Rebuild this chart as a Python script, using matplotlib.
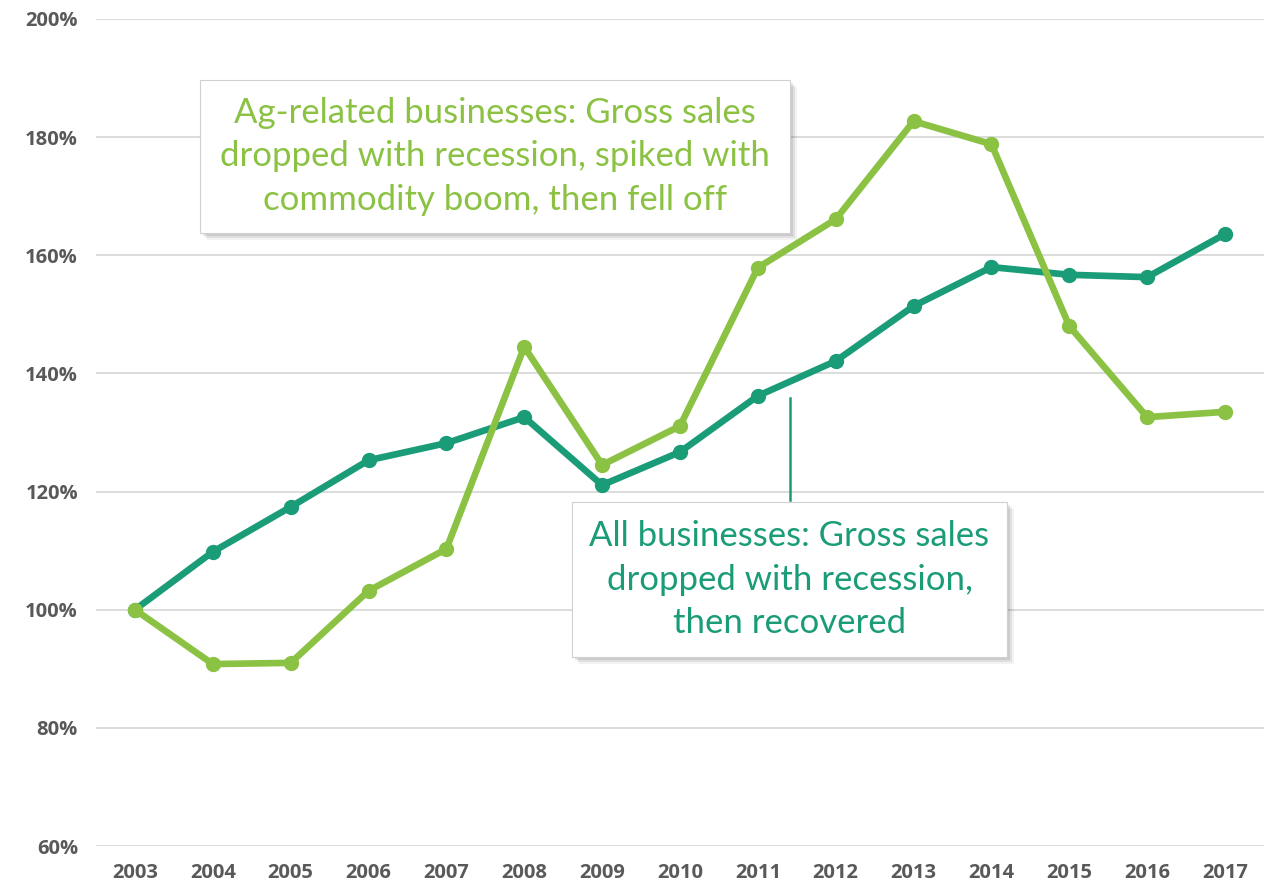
import numpy as np
import matplotlib.pyplot as plt
from matplotlib.patches import Rectangle

# Gross sales relative to 2003 (%)
years = ['2003', '2004', '2005', '2006', '2007', '2008', '2009', '2010',
         '2011', '2012', '2013', '2014', '2015', '2016', '2017']
all_biz = [100, 109.8, 117.4, 125.3, 128.2, 132.6, 121.1, 126.7,
           136.2, 142.1, 151.4, 158.0, 156.7, 156.3, 163.6]
ag_biz = [100, 90.8, 91.0, 103.2, 110.3, 144.5, 124.5, 131.1,
          157.9, 166.1, 182.7, 178.8, 148.0, 132.6, 133.5]
yticks = [60, 80, 100, 120, 140, 160, 180, 200]

dark = '#1B9C78'
light = '#8BC243'
grey = '#595959'

plt.rcParams['font.family'] = ['Lato', 'DejaVu Sans']

fig = plt.figure(figsize=(12.64, 8.86), dpi=100)
ax = fig.add_axes([96 / 1264, 40 / 886, 1168 / 1264, 827 / 886])

x = np.arange(len(years))
ax.plot(x, all_biz, color=dark, lw=4.8, marker='o', ms=10, zorder=3,
        solid_capstyle='round')
ax.plot(x, ag_biz, color=light, lw=4.8, marker='o', ms=10, zorder=4,
        solid_capstyle='round')

ax.set_xlim(-0.5, len(years) - 0.5)
ax.set_ylim(60, 200)
ax.set_xticks(x)
ax.set_xticklabels(years)
ax.set_yticks(yticks)
ax.set_yticklabels([f'{v}%' for v in yticks])
ax.tick_params(length=0, labelcolor=grey)
ax.tick_params(axis='x', pad=12)
ax.tick_params(axis='y', pad=13)
for lab in ax.get_xticklabels() + ax.get_yticklabels():
    lab.set_fontfamily(['Open Sans', 'DejaVu Sans'])
    lab.set_fontweight('bold')
    lab.set_fontsize(14.5)
ax.grid(axis='y', color='#D9D9D9', lw=1.3)
ax.set_axisbelow(True)
for s in ax.spines.values():
    s.set_visible(False)

# connector from the "All businesses" box up to the line
ax.plot([8.41, 8.41], [118.6, 135.8], color=dark, lw=1.8, zorder=2)


def callout(x0, y0, x1, y1, text, color):
    # box given in pixel coords (top-left origin)
    W, H = 1264, 886
    for off, a in [(7, 0.05), (5, 0.07), (3, 0.09)]:
        fig.patches.append(Rectangle(((x0 + off) / W, (H - y1 - off) / H),
                                     (x1 - x0) / W, (y1 - y0) / H,
                                     transform=fig.transFigure,
                                     facecolor='black', alpha=a,
                                     edgecolor='none', zorder=5))
    fig.patches.append(Rectangle((x0 / W, (H - y1) / H), (x1 - x0) / W,
                                 (y1 - y0) / H, transform=fig.transFigure,
                                 facecolor='white', edgecolor='#D0D0D0',
                                 lw=0.8, zorder=6))
    fig.text((x0 + x1) / 2 / W, (H - (y0 + y1) / 2) / H, text, color=color,
             fontsize=25, ha='center', va='center', linespacing=1.45,
             zorder=7)


callout(200, 80, 790, 233,
        'Ag-related businesses: Gross sales\ndropped with recession, spiked with\ncommodity boom, then fell off',
        light)
callout(572, 502, 1007, 657,
        'All businesses: Gross sales\ndropped with recession,\nthen recovered',
        dark)

fig.savefig('out.png', dpi=100)
